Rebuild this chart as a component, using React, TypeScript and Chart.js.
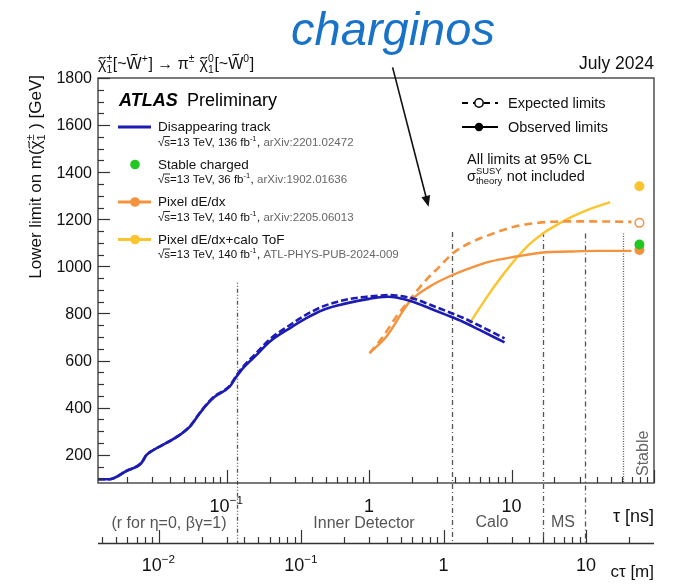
import { useEffect, useRef } from 'react';
import { Chart, registerables } from 'chart.js';

Chart.register(...registerables);

const FONT = "'Liberation Sans', Arial, Helvetica, sans-serif";
const C_M_PER_NS = 0.299792458;

// axis ranges
const TAU_MIN = 0.0125;
const TAU_MAX = 100;
const MASS_MIN = 80;
const MASS_MAX = 1800;

// Disappearing track (tau in ns, mass in GeV)
const blueTau = [0.0125, 0.01505, 0.0198, 0.0252, 0.0273, 0.0304, 0.0378, 0.0455, 0.055, 0.0646, 0.072, 0.0824, 0.105, 0.117, 0.13, 0.1616, 0.2004, 0.2768, 0.3625, 0.474, 0.621, 0.73, 1.0, 1.185, 1.36, 1.552, 2.03, 2.658, 3.48, 4.55, 5.96, 8.93];
const blueObs = [96, 96, 131, 165, 198, 219, 250, 279, 318, 375, 411, 446, 489, 531, 567, 623, 680, 737, 780, 815, 836, 846, 862, 869, 871, 868, 850, 822, 794, 765, 730, 677];
const blueExp = [96, 96, 131, 165, 198, 219, 250, 279, 320, 377, 413, 449, 492, 536, 573, 632, 690, 750, 795, 830, 852, 862, 872, 876, 878, 876, 864, 838, 810, 782, 748, 694];

// Pixel dE/dx
const orangeExpTau = [1.008, 1.25, 1.552, 1.924, 2.52, 3.124, 3.873, 5.074, 7.01, 10.21, 14.9, 22.9, 35.3, 69.5];
const orangeExp = [631, 701, 786, 857, 943, 999, 1056, 1099, 1134, 1167, 1184, 1191, 1191, 1189];
const orangeObsTau = [1.008, 1.32, 1.924, 2.658, 3.873, 5.074, 7.01, 10.8, 16.56, 25.5, 41.2, 69.5];
const orangeObs = [632, 701, 850, 914, 964, 992, 1020, 1042, 1059, 1063, 1066, 1066];

// Pixel dE/dx + calo ToF
const yellowTau = [5.074, 6.29, 7.81, 10.21, 13.38, 16.58, 20.6, 26.9, 35.3, 49.3];
const yellowObs = [758, 844, 926, 1017, 1094, 1140, 1175, 1212, 1243, 1273];

// Stable column
const stableTau = 79;
const stableYellowObs = 1340;
const stableOrangeExp = 1185;
const stableGreenObs = 1093;
const stableOrangeObs = 1070;

// ticks
const massMajorTicks = [200, 400, 600, 800, 1000, 1200, 1400, 1600, 1800];
const tauLabelTicks = [0.1, 1, 10];
const tauLabelBase = ['10', '1', '10'];
const tauLabelExp = ['−1', '', ''];
const ctauLabelTicks = [0.01, 0.1, 1, 10];
const ctauLabelBase = ['10', '10', '1', '10'];
const ctauLabelExp = ['−2', '−1', '', ''];

// detector region boundaries (tau in ns) and top of their lines (GeV)
const regionTau = [0.119, 3.79, 16.5, 33, 61];
const regionTop = [930, 1146, 1146, 1140, 1140];
const regionDash = [[1, 2, 1, 2, 4, 2], [5, 3, 1, 3], [5, 3, 1, 3], [5, 3, 1, 3], [1, 1.5]];
const regionToCtau = [true, true, true, true, false];

// arrow from title to the plot (tau ns, mass GeV)
const arrowFrom = [1.462, 1845];
const arrowTo = [2.615, 1253];

const BLUE = '#1c1cb2';
const ORANGE = '#f5923e';
const YELLOW = '#fcc52f';
const GREEN = '#22c822';

type Seg = { t?: string; sup?: string; sub?: string; tilde?: number; over?: boolean; color?: string; font?: string };

function fontStr(size: number, style = '') {
  return `${style} ${size}px ${FONT}`.trim();
}

function segW(ctx: CanvasRenderingContext2D, s: Seg, size: number) {
  if (s.t !== undefined) {
    ctx.font = fontStr(size, s.font);
    return ctx.measureText(s.t).width;
  }
  ctx.font = fontStr(size * 0.65);
  return Math.max(s.sup ? ctx.measureText(s.sup).width : 0, s.sub ? ctx.measureText(s.sub).width : 0) + size * 0.04;
}

function drawTilde(ctx: CanvasRenderingContext2D, cx: number, cy: number, w: number, a: number, lw: number) {
  ctx.lineWidth = lw;
  ctx.setLineDash([]);
  ctx.beginPath();
  const x0 = cx - w / 2;
  ctx.moveTo(x0, cy + a);
  ctx.bezierCurveTo(x0 + w * 0.3, cy - a * 2.4, x0 + w * 0.7, cy + a * 2.4, x0 + w, cy - a);
  ctx.stroke();
}

function drawRich(ctx: CanvasRenderingContext2D, segs: Seg[], x: number, y: number, size: number, align: 'left' | 'center' | 'right', color: string) {
  const ws = segs.map((s) => segW(ctx, s, size));
  const total = ws.reduce((a, b) => a + b, 0);
  let cx = align === 'left' ? x : align === 'center' ? x - total / 2 : x - total;
  ctx.textAlign = 'left';
  ctx.textBaseline = 'alphabetic';
  segs.forEach((s, i) => {
    const col = s.color || color;
    ctx.fillStyle = col;
    ctx.strokeStyle = col;
    if (s.t !== undefined) {
      ctx.font = fontStr(size, s.font);
      ctx.fillText(s.t, cx, y);
      if (s.tilde) {
        const lw = ctx.measureText(s.t[s.t.length - 1]).width;
        drawTilde(ctx, cx + ws[i] - lw / 2, y - size * s.tilde, size * 0.42, size * 0.05, Math.max(0.9, size * 0.065));
      }
      if (s.over) {
        ctx.lineWidth = Math.max(0.9, size * 0.07);
        ctx.setLineDash([]);
        ctx.beginPath();
        ctx.moveTo(cx - 1, y - size * 0.8);
        ctx.lineTo(cx + ws[i], y - size * 0.8);
        ctx.stroke();
      }
    } else {
      ctx.font = fontStr(size * 0.65);
      if (s.sup) ctx.fillText(s.sup, cx, y - size * 0.43);
      if (s.sub) ctx.fillText(s.sub, cx, y + size * 0.22);
    }
    cx += ws[i];
  });
}

function logTicks(min: number, max: number) {
  const out: { v: number; major: boolean }[] = [];
  for (let d = Math.floor(Math.log10(min)); d <= Math.ceil(Math.log10(max)); d++) {
    for (let k = 1; k <= 9; k++) {
      const v = k * Math.pow(10, d);
      if (v >= min * 0.9999 && v <= max * 1.0001) out.push({ v, major: k === 1 });
    }
  }
  return out;
}

const legendEntries = [
  { label: 'Disappearing track', lumi: '=13 TeV, 136 fb', ref: 'arXiv:2201.02472', color: BLUE, line: true, dot: false },
  { label: 'Stable charged', lumi: '=13 TeV, 36 fb', ref: 'arXiv:1902.01636', color: GREEN, line: false, dot: true },
  { label: 'Pixel dE/dx', lumi: '=13 TeV, 140 fb', ref: 'arXiv:2205.06013', color: ORANGE, line: true, dot: true },
  { label: 'Pixel dE/dx+calo ToF', lumi: '=13 TeV, 140 fb', ref: 'ATL-PHYS-PUB-2024-009', color: YELLOW, line: true, dot: true },
];

const overlay = {
  id: 'overlay',
  beforeDatasetsDraw(chart: any) {
    const ctx: CanvasRenderingContext2D = chart.ctx;
    const xs = chart.scales.x;
    const ys = chart.scales.y;
    const ca = chart.chartArea;
    const ctauAxisY = ca.bottom + 60;
    ctx.save();
    regionTau.forEach((t, i) => {
      const x = Math.round(xs.getPixelForValue(t)) + 0.5;
      ctx.strokeStyle = '#555';
      ctx.lineWidth = 1.3;
      ctx.setLineDash(regionDash[i]);
      ctx.beginPath();
      ctx.moveTo(x, ys.getPixelForValue(regionTop[i]));
      ctx.lineTo(x, regionToCtau[i] ? ctauAxisY : ca.bottom);
      ctx.stroke();
    });
    ctx.setLineDash([]);
    ctx.restore();
  },
  afterDraw(chart: any) {
    const ctx: CanvasRenderingContext2D = chart.ctx;
    const xs = chart.scales.x;
    const x2 = chart.scales.x2;
    const ys = chart.scales.y;
    const ca = chart.chartArea;
    const ctauAxisY = ca.bottom + 60;
    const AX = '#333';
    ctx.save();
    ctx.setLineDash([]);

    // frame
    ctx.strokeStyle = AX;
    ctx.lineWidth = 1.3;
    ctx.strokeRect(ca.left, ca.top, ca.right - ca.left, ca.bottom - ca.top);

    // y ticks
    ctx.lineWidth = 1.2;
    for (let m = 100; m <= MASS_MAX; m += 50) {
      const y = Math.round(ys.getPixelForValue(m)) + 0.5;
      const major = m % 200 === 0;
      ctx.beginPath();
      ctx.moveTo(ca.left, y);
      ctx.lineTo(ca.left + (major ? 12 : 6), y);
      ctx.stroke();
    }
    ctx.fillStyle = '#111';
    ctx.font = fontStr(16);
    ctx.textAlign = 'right';
    ctx.textBaseline = 'middle';
    massMajorTicks.forEach((m) => ctx.fillText(String(m), ca.left - 6, ys.getPixelForValue(m) + 1));

    // tau ticks on main axis
    logTicks(TAU_MIN, TAU_MAX).forEach(({ v, major }) => {
      const x = Math.round(xs.getPixelForValue(v)) + 0.5;
      ctx.beginPath();
      ctx.moveTo(x, ca.bottom);
      ctx.lineTo(x, ca.bottom - (major ? 13 : 6));
      ctx.stroke();
    });
    tauLabelTicks.forEach((t, i) => {
      const segs: Seg[] = [{ t: tauLabelBase[i] }];
      if (tauLabelExp[i]) segs.push({ sup: tauLabelExp[i] });
      drawRich(ctx, segs, xs.getPixelForValue(t), ca.bottom + 29, 18, 'center', '#111');
    });
    drawRich(ctx, [{ t: 'τ [ns]' }], ca.right, ca.bottom + 39, 18, 'right', '#111');

    // region labels
    ctx.font = fontStr(16);
    ctx.fillStyle = '#555';
    ctx.textAlign = 'center';
    ctx.textBaseline = 'alphabetic';
    ctx.fillText('(r for η=0, βγ=1)', 169, ca.bottom + 45);
    ctx.fillText('Inner Detector', 364, ca.bottom + 45);
    ctx.fillText('Calo', 492, ca.bottom + 44);
    ctx.fillText('MS', 563, ca.bottom + 44);

    // ctau axis
    ctx.strokeStyle = AX;
    ctx.lineWidth = 1.3;
    ctx.beginPath();
    ctx.moveTo(ca.left, ctauAxisY + 0.5);
    ctx.lineTo(ca.right, ctauAxisY + 0.5);
    ctx.stroke();
    ctx.lineWidth = 1.2;
    logTicks(TAU_MIN * C_M_PER_NS, TAU_MAX * C_M_PER_NS).forEach(({ v, major }) => {
      const x = Math.round(x2.getPixelForValue(v)) + 0.5;
      ctx.beginPath();
      ctx.moveTo(x, ctauAxisY);
      ctx.lineTo(x, ctauAxisY - (major ? 13 : 6));
      ctx.stroke();
    });
    ctauLabelTicks.forEach((c, i) => {
      const segs: Seg[] = [{ t: ctauLabelBase[i] }];
      if (ctauLabelExp[i]) segs.push({ sup: ctauLabelExp[i] });
      drawRich(ctx, segs, x2.getPixelForValue(c), ctauAxisY + 28, 18, 'center', '#111');
    });
    drawRich(ctx, [{ t: 'cτ [m]' }], ca.right, ctauAxisY + 34, 17, 'right', '#111');

    // Stable
    ctx.save();
    ctx.translate(ca.right - 6, ca.bottom - 7);
    ctx.rotate(-Math.PI / 2);
    drawRich(ctx, [{ t: 'Stable' }], 0, 0, 16, 'left', '#666');
    ctx.restore();

    // y title
    ctx.save();
    ctx.translate(41, ca.top - 3);
    ctx.rotate(-Math.PI / 2);
    drawRich(ctx, [{ t: 'Lower limit on m(' }, { t: 'χ', tilde: 0.7 }, { sup: '±', sub: '1' }, { t: ' ) [GeV]' }], 0, 0, 17, 'right', '#111');
    ctx.restore();

    // header
    drawRich(
      ctx,
      [
        { t: 'χ', tilde: 0.7 }, { sup: '±', sub: '1' }, { t: '[~' }, { t: 'W', tilde: 0.9 }, { sup: '+' },
        { t: '] → π' }, { sup: '±' }, { t: ' χ', tilde: 0.7 }, { sup: '0', sub: '1' }, { t: '[~' }, { t: 'W', tilde: 0.9 }, { sup: '0' }, { t: ']' },
      ],
      ca.left, ca.top - 9, 16, 'left', '#111'
    );
    drawRich(ctx, [{ t: 'July 2024' }], ca.right, ca.top - 9, 17.5, 'right', '#111');

    // charginos + arrow
    ctx.font = fontStr(47, 'italic');
    ctx.fillStyle = '#1873c8';
    ctx.textAlign = 'center';
    ctx.textBaseline = 'alphabetic';
    ctx.fillText('charginos', 393, 45);
    const ax0 = xs.getPixelForValue(arrowFrom[0]);
    const ay0 = ys.getPixelForValue(arrowFrom[1]);
    const ax1 = xs.getPixelForValue(arrowTo[0]);
    const ay1 = ys.getPixelForValue(arrowTo[1]);
    const ang = Math.atan2(ay1 - ay0, ax1 - ax0);
    ctx.strokeStyle = '#111';
    ctx.fillStyle = '#111';
    ctx.lineWidth = 1.6;
    ctx.beginPath();
    ctx.moveTo(ax0, ay0);
    ctx.lineTo(ax1 - 8 * Math.cos(ang), ay1 - 8 * Math.sin(ang));
    ctx.stroke();
    ctx.beginPath();
    ctx.moveTo(ax1, ay1);
    ctx.lineTo(ax1 - 11 * Math.cos(ang) + 4.5 * Math.sin(ang), ay1 - 11 * Math.sin(ang) - 4.5 * Math.cos(ang));
    ctx.lineTo(ax1 - 11 * Math.cos(ang) - 4.5 * Math.sin(ang), ay1 - 11 * Math.sin(ang) + 4.5 * Math.cos(ang));
    ctx.closePath();
    ctx.fill();

    // ATLAS Preliminary
    ctx.textAlign = 'left';
    ctx.fillStyle = '#000';
    ctx.font = fontStr(18, 'italic bold');
    ctx.fillText('ATLAS', 119, 106);
    ctx.font = fontStr(18);
    ctx.fillText('Preliminary', 187, 106);

    // left legend
    legendEntries.forEach((e, i) => {
      const by = 131 + i * 37.5;
      const sy = by - 4;
      if (e.line) {
        ctx.strokeStyle = e.color;
        ctx.lineWidth = 3;
        ctx.beginPath();
        ctx.moveTo(118, sy);
        ctx.lineTo(151, sy);
        ctx.stroke();
      }
      if (e.dot) {
        ctx.fillStyle = e.color;
        ctx.beginPath();
        ctx.arc(135, sy, 4.8, 0, Math.PI * 2);
        ctx.fill();
      }
      drawRich(ctx, [{ t: e.label }], 158, by, 13.5, 'left', '#111');
      drawRich(ctx, [{ t: '√' }, { t: 's', over: true }, { t: e.lumi }, { sup: '-1' }, { t: ', ' }, { t: e.ref, color: '#666' }], 158, by + 14.7, 11.5, 'left', '#111');
    });

    // right legend
    ctx.strokeStyle = '#000';
    ctx.lineWidth = 2;
    ctx.setLineDash([6, 5]);
    ctx.beginPath();
    ctx.moveTo(462, 103);
    ctx.lineTo(498, 103);
    ctx.stroke();
    ctx.setLineDash([]);
    ctx.fillStyle = '#fff';
    ctx.lineWidth = 1.5;
    ctx.beginPath();
    ctx.arc(479, 103, 4.2, 0, Math.PI * 2);
    ctx.fill();
    ctx.stroke();
    ctx.lineWidth = 2.2;
    ctx.beginPath();
    ctx.moveTo(462, 127);
    ctx.lineTo(498, 127);
    ctx.stroke();
    ctx.fillStyle = '#000';
    ctx.beginPath();
    ctx.arc(479, 127, 4.2, 0, Math.PI * 2);
    ctx.fill();
    drawRich(ctx, [{ t: 'Expected limits' }], 508, 107.5, 14.5, 'left', '#111');
    drawRich(ctx, [{ t: 'Observed limits' }], 508, 131.5, 14.5, 'left', '#111');
    drawRich(ctx, [{ t: 'All limits at 95% CL' }], 467, 163.5, 14.5, 'left', '#111');
    drawRich(ctx, [{ t: 'σ' }, { sup: 'SUSY', sub: 'theory' }, { t: ' not included' }], 467, 180.5, 14.5, 'left', '#111');

    ctx.restore();
  },
};

const pts = (xs: number[], ys: number[]) => xs.map((x, i) => ({ x, y: ys[i] }));

export default function App() {
  const ref = useRef<HTMLCanvasElement>(null);
  useEffect(() => {
    const canvas = ref.current;
    if (!canvas) return;
    const lineDs = (label: string, data: any, color: string, width: number, dash: number[]) => ({
      label,
      data,
      borderColor: color,
      backgroundColor: color,
      borderWidth: width,
      borderDash: dash,
      pointRadius: 0,
      fill: false,
      cubicInterpolationMode: 'monotone' as const,
      showLine: true,
    });
    const dotDs = (label: string, y: number, color: string, open: boolean) => ({
      label,
      data: [{ x: stableTau, y }],
      borderColor: color,
      backgroundColor: open ? '#ffffff' : color,
      pointRadius: open ? 4.3 : 5,
      pointBorderWidth: open ? 1.5 : 0,
      showLine: false,
    });
    const chart = new Chart(canvas, {
      type: 'line',
      data: {
        datasets: [
          lineDs('Disappearing track expected', pts(blueTau, blueExp), BLUE, 2.6, [7, 3]),
          lineDs('Disappearing track observed', pts(blueTau, blueObs), BLUE, 2.6, []),
          lineDs('Pixel dE/dx expected', pts(orangeExpTau, orangeExp), ORANGE, 2.6, [8, 5]),
          lineDs('Pixel dE/dx observed', pts(orangeObsTau, orangeObs), ORANGE, 2.4, []),
          lineDs('Pixel dE/dx+calo ToF observed', pts(yellowTau, yellowObs), YELLOW, 2.4, []),
          dotDs('Stable yellow', stableYellowObs, YELLOW, false),
          dotDs('Stable orange expected', stableOrangeExp, ORANGE, true),
          dotDs('Stable charged', stableGreenObs, GREEN, false),
          dotDs('Stable orange observed', stableOrangeObs, ORANGE, false),
        ] as any,
      },
      options: {
        animation: false,
        responsive: false,
        devicePixelRatio: 1,
        layout: { padding: { left: 98, right: 20, top: 78, bottom: 103 } },
        plugins: { legend: { display: false }, tooltip: { enabled: false } },
        scales: {
          x: { type: 'logarithmic', min: TAU_MIN, max: TAU_MAX, display: false },
          x2: { type: 'logarithmic', position: 'bottom', min: TAU_MIN * C_M_PER_NS, max: TAU_MAX * C_M_PER_NS, display: false },
          y: { type: 'linear', min: MASS_MIN, max: MASS_MAX, display: false },
        },
      },
      plugins: [overlay],
    });
    return () => chart.destroy();
  }, []);
  return (
    <div style={{ position: 'absolute', left: 0, top: 0, width: 674, height: 586, background: '#fff' }}>
      <canvas ref={ref} width={674} height={586} style={{ width: 674, height: 586, display: 'block' }} />
    </div>
  );
}
